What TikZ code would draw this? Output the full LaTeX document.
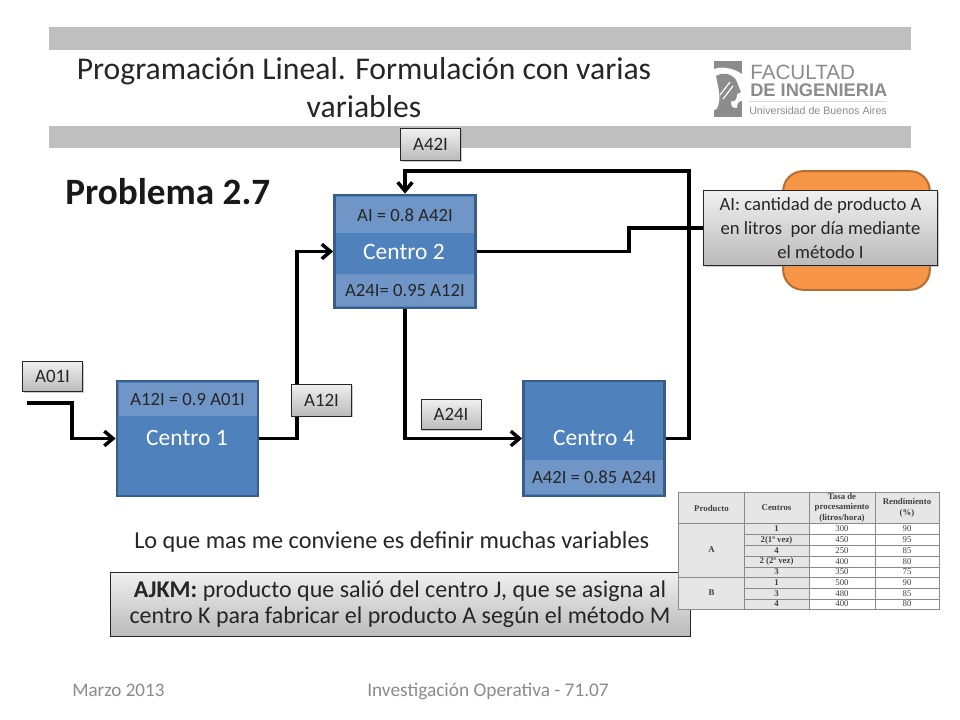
\documentclass[tikz,border=0pt]{standalone}
\usepackage{fontspec}
\setmainfont{Carlito}
\newfontfamily\logofont{Liberation Sans}
\newfontfamily\tabfont{Liberation Serif}
\usetikzlibrary{shadows,backgrounds,arrows.meta}
\definecolor{barg}{HTML}{BFBFBF}
\definecolor{boxb}{HTML}{4F81BD}
\definecolor{boxl}{HTML}{385D8A}
\definecolor{bandb}{HTML}{7096C8}
\definecolor{orng}{HTML}{F79646}
\definecolor{orngl}{HTML}{B66D31}
\definecolor{foot}{HTML}{8B8B8B}
\definecolor{logog}{HTML}{8C8C8C}
\definecolor{tabh}{HTML}{E6E6E6}
\definecolor{tabl}{HTML}{8A8A8A}
\newcommand{\fsz}[1]{\fontsize{#1}{1.2\dimexpr#1pt\relax}\selectfont}
\tikzset{
  x=0.75pt,y=-0.75pt,
  bar/.style={fill=barg,draw=none},
  centro/.style={rectangle,draw=boxl,line width=1.8pt,fill=boxb,minimum width=106pt,minimum height=#1,inner sep=0pt},
  band/.style={rectangle,fill=bandb,draw=none,minimum width=103.5pt,inner sep=0pt,text=black!85,font=\fsz{14}},
  ctitle/.style={text=white,font=\fsz{17.6},inner sep=0pt},
  tag/.style={rectangle,draw=black!85,line width=0.6pt,top color=white!94!black,bottom color=black!27,drop shadow={shadow xshift=1.1pt,shadow yshift=-1.1pt,fill=black!40},text=black!85,align=center,inner sep=0pt},
  flow/.style={line width=2.8pt,black,line join=miter},
  flowa/.style={flow,-{Straight Barb[length=6.5pt,width=11pt,line width=2.6pt]}},
  cell/.style={font=\tabfont\fsz{6.6},text=black!75,inner sep=0pt},
  cellb/.style={cell,font=\tabfont\bfseries\fsz{6.6}},
  tline/.style={draw=tabl,line width=0.6pt},
}
\begin{document}
\begin{tikzpicture}
\useasboundingbox (0,0) rectangle (960,720);
\begin{scope}[on background layer]
\fill[white] (0,0) rectangle (960,720);
% header bars
\fill[bar] (49,27) rectangle (911,50);
\fill[bar] (49,126) rectangle (911,148);
\end{scope}
\node[font=\fsz{23.75},text=black!85,align=center,inner sep=0pt] (title) at (364,88) {Programación Lineal. Formulación con varias\\[0pt]variables};
% logo
\fill[logog] (714,61) rectangle (742,117);
\fill[white] (714,69) .. controls (722,66) and (733,68) .. (742,74) -- (742,101) .. controls (738,101) and (737,104) .. (737,108) .. controls (730,106) and (722,108) .. (714,110) -- cycle;
\fill[logog] (716,76) .. controls (722,72) and (731,73) .. (736,80) .. controls (738,84) and (739,88) .. (741,92) -- (737,94) .. controls (737,99) and (735,102) .. (731,101) .. controls (731,105) and (732,108) .. (734,110) -- (716,110) .. controls (722,102) and (719,90) .. (716,76) -- cycle;
\draw[white,line width=0.9pt] (720,95) -- (730,82) (723,99) -- (733,86);
\node[font=\logofont\fsz{15.5},text=logog,anchor=base west,inner sep=0pt] (fac) at (750,80) {FACULTAD};
\node[font=\logofont\bfseries\fsz{13.7},text=logog,anchor=base west,inner sep=0pt] (ding) at (750,96.5) {DE INGENIERIA};
\fill[black!15] (749,101) rectangle (887,102);
\node[font=\logofont\fsz{8},text=logog,anchor=base west,inner sep=0pt] (uba) at (749,115) {Universidad de Buenos Aires};
% heading
\node[font=\bfseries\fsz{27.9},text=black!90,anchor=west,inner sep=0pt] (prob) at (65,192) {Problema 2.7};
% orange box
\node[rectangle,rounded corners=15pt,fill=orng,draw=orngl,line width=1.5pt,minimum width=110pt,minimum height=89pt,inner sep=0pt] (res) at (856.5,230.5) {};
% centros
\node[centro=86pt] (c1) at (187.5,438.5) {};
\node[centro=85pt] (c2) at (405,251.5) {};
\node[centro=86pt] (c4) at (594,438.5) {};
\node[band,minimum height=25pt,anchor=north] (b1) at (187.5,382.5) {A12I = 0.9 A01I};
\node[band,minimum height=27pt,anchor=north] (b2a) at (405,196.5) {AI = 0.8 A42I};
\node[band,minimum height=24pt,anchor=south] (b2b) at (405,306.5) {A24I= 0.95 A12I};
\node[band,minimum height=26pt,anchor=south] (b4) at (594,494.5) {A42I = 0.85 A24I};
\node[ctitle] (t1) at (187,438) {Centro 1};
\node[ctitle] (t2) at (404,252) {Centro 2};
\node[ctitle] (t4) at (594,438) {Centro 4};
% callouts
\node[tag,minimum width=176pt,minimum height=56pt,font=\fsz{14}] (ai) at (820.5,228) {AI: cantidad de producto A\\[1pt]en litros\ \ por día mediante\\[1pt]el método I};
\node[tag,minimum width=45pt,minimum height=24pt,font=\fsz{14.2}] (a42) at (430.5,144.5) {A42I};
\node[tag,minimum width=45pt,minimum height=23pt,font=\fsz{14.2}] (a01) at (52.5,376.5) {A01I};
\node[tag,minimum width=45pt,minimum height=24pt,font=\fsz{14.2}] (a12) at (321.5,400) {A12I};
\node[tag,minimum width=45pt,minimum height=23pt,font=\fsz{14.2}] (a24) at (451,414.5) {A24I};
\node[tag,minimum width=435pt,minimum height=48pt,font=\fsz{18}] (aj) at (400,604) {\raisebox{-1.5pt}{\shortstack{\textbf{AJKM:} producto que salió del centro J, que se asigna al\\[0.5pt]centro K para fabricar el producto A según el método M}}};
\coordinate (in) at (27,403);
% connectors behind the boxes
\begin{scope}[on background layer]
\draw[flowa] (in) -- (72,403) |- (c1.west);
\draw[flowa] (c1.east) -- (297,438.5) |- (c2.west);
\draw[flowa] (c2.south) |- (c4.west);
\draw[flowa] (c4.east) -- (689,438.5) |- (405,171) -- (c2.north);
\draw[flow] (c2.east) -- (629,251.5) |- (ai.west);
\end{scope}
% text
\node[font=\fsz{18.2},text=black!85,anchor=base west,inner sep=0pt] (nota) at (134,548) {Lo que mas me conviene es definir muchas variables};
\node[font=\fsz{14.3},text=foot,anchor=base west,inner sep=0pt] (f1) at (72,696) {Marzo 2013};
\node[font=\fsz{14.5},text=foot,anchor=base west,inner sep=0pt] (f2) at (367,696) {Investigación Operativa - 71.07};
% table
\fill[white] (678,492) rectangle (939,609);
\fill[tabh] (678,492) rectangle (939,523);
\fill[tabh] (678,523) rectangle (809,609);
\draw[tline] (678,492) rectangle (939,609);
\foreach \xx in {744,809,875} \draw[tline] (\xx,492) -- (\xx,609);
\draw[tline] (678,523) -- (939,523);
\foreach \yy in {534,545,556,567,588,599} \draw[tline] (744,\yy) -- (939,\yy);
\draw[tline] (678,577) -- (939,577);
\node[cellb] (h1) at (711.5,508) {Producto};
\node[cellb] (h2) at (776.5,508) {Centros};
\node[cellb,align=center] (h3) at (842,507.5) {Tasa de\\procesamiento\\(litros/hora)};
\node[cellb,align=center] (h4) at (907,508) {Rendimiento\\(\%)};
\node[cellb] (pa) at (711.5,550) {A};
\node[cellb] (pb) at (711.5,593) {B};
\foreach \yy/\vc/\vt/\vr [count=\i] in {
  529/1/300/90,
  540/2(1ª vez)/450/95,
  550.5/4/250/85,
  561.5/2 (2ª vez)/400/80,
  572/3/350/75,
  582.5/1/500/90,
  593.5/3/480/85,
  604/4/400/80}{
  \node[cellb] (cc\i) at (776.5,\yy) {\vc};
  \node[cell] (tt\i) at (842,\yy) {\vt};
  \node[cell] (rr\i) at (907,\yy) {\vr};
}
\end{tikzpicture}
\end{document}
